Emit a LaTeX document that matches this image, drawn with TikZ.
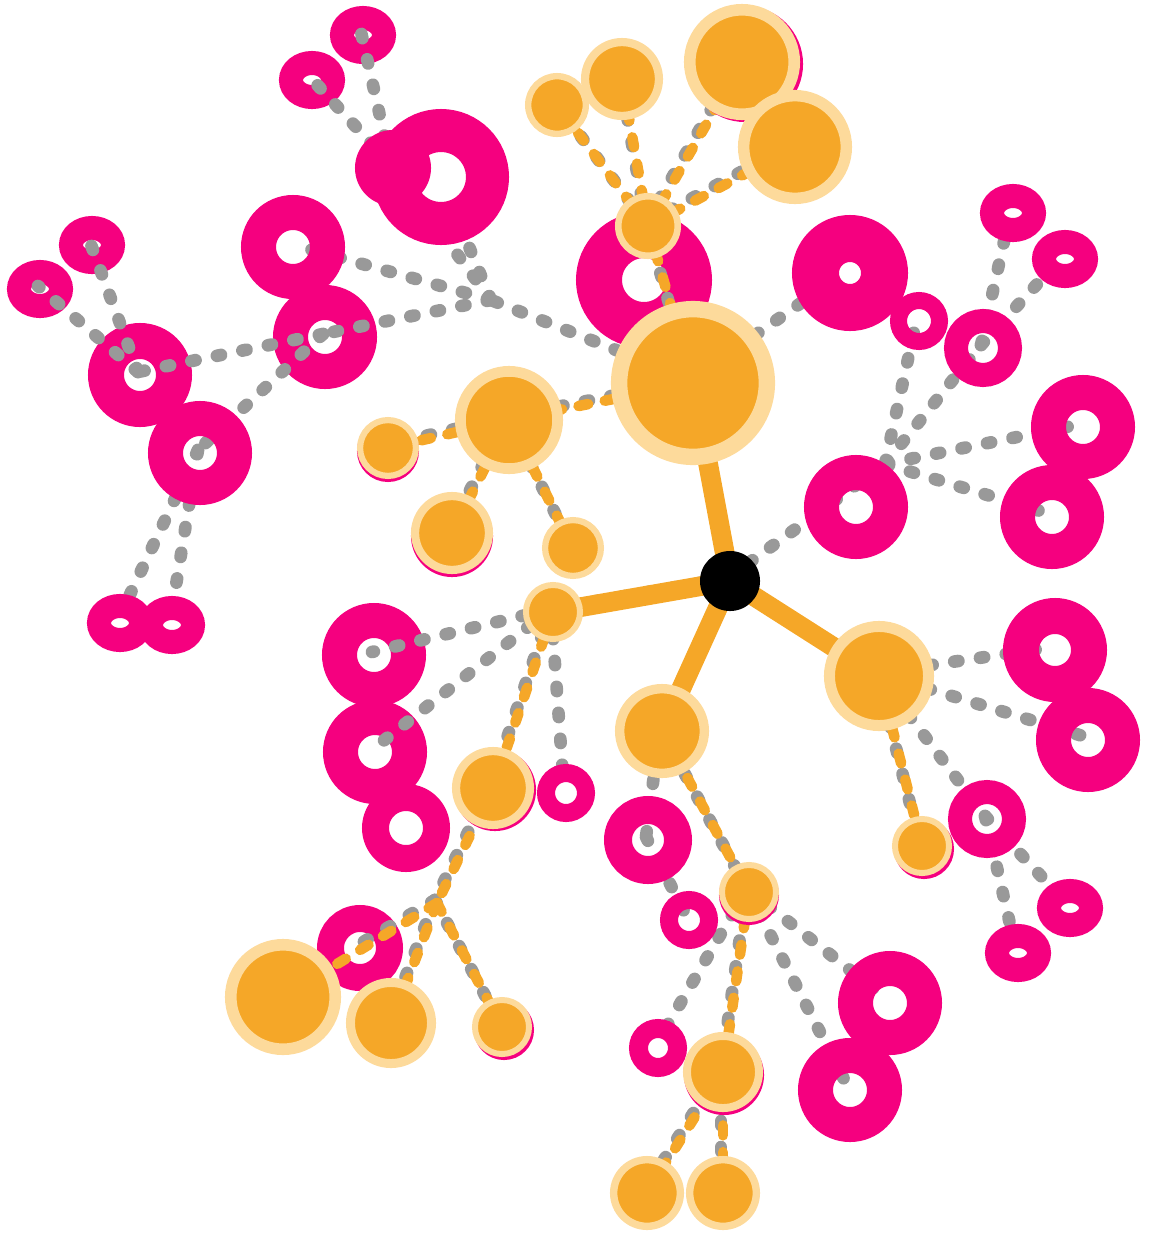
\documentclass[tikz,border=0pt]{standalone}
\usepackage{xcolor}
\usepackage{tikz}
\usetikzlibrary{shapes.geometric}
\definecolor{pnk}{RGB}{245, 0, 127}
\definecolor{orfill}{RGB}{245, 167, 40}
\definecolor{orrim}{RGB}{253, 218, 155}
\definecolor{lnk}{RGB}{153, 153, 153}
\pgfdeclarelayer{deep}
\pgfdeclarelayer{links}
\pgfsetlayers{deep,links,main}

\tikzset{
    ring/.style 2 args={circle, draw=pnk, inner sep=0pt, outer sep=0pt,
        minimum size={(#1+#2)*0.01cm}, line width={(#1-#2)*0.01cm}},
    tinyring/.style={ellipse, draw=pnk, fill=white, inner sep=0pt, outer sep=0pt,
        minimum width=0.42cm, minimum height=0.34cm, line width=0.24cm},
    pdisc/.style={circle, fill=pnk, inner sep=0pt, minimum size=0.76cm},
    blob/.style={circle, fill=orfill, draw=orrim, inner sep=0pt, outer sep=0pt,
        minimum size={#1*0.018cm}, line width={#1*0.002cm}},
    lit/.style={preaction={draw=pnk, fill=pnk, transform canvas={shift={#1}}}},
    hub/.style={circle, fill=black, inner sep=0pt, minimum size=0.6cm},
    link/.style={lnk, line width=3.6pt, line cap=round, dash pattern=on 1.2pt off 6.2pt,
        transform canvas={shift={(-2,-3)}}},
    hot/.style={orfill, line width=3pt, line cap=round, dash pattern=on 2.8pt off 4.8pt},
    trunk/.style={orfill, line width=5.6pt, line cap=round}
}

\begin{document}
\begin{tikzpicture}[x=0.01cm, y=-0.01cm]
    \useasboundingbox (0,0) rectangle (1149,1236);

    % rings that the links run over
    \begin{pgfonlayer}{deep}
        \node[tinyring] (ptl1) at (363,35) {};
        \node[tinyring] (ptl2) at (312,80) {};
        \node[tinyring] (pl1) at (92,245) {};
        \node[tinyring] (pl2) at (40,289) {};
        \node[ring={68}{22}] (pmid) at (644,280) {};
        \node[ring={43}{16}] (pq) at (360,948) {};
        \node[ring={52}{17}] (pll1) at (374,655) {};
        \node[ring={52}{17}] (pll2) at (375,752) {};
        \node[ring={52}{17}] (pw2) at (325,337) {};
        \node[ring={52}{16}] (pw3) at (140,375) {};
    \end{pgfonlayer}

    % pink rings
    \node[ring={52}{17}] (pw1) at (293,247) {};
    \node[ring={68}{25}, fill=white] (ptop) at (441,177) {};
    \node[pdisc] (pdot) at (393,168) {};
    \node[ring={52}{17}] (pw4) at (200,453) {};
    \node[tinyring] (pb1) at (120,623) {};
    \node[tinyring] (pb2) at (172,625) {};
    \node[ring={58}{11}, fill=white] (pne) at (850,273) {};
    \node[ring={29}{12}] (pe1) at (919,321) {};
    \node[ring={39}{15}] (pe2) at (983,348) {};
    \node[tinyring] (pe3) at (1013,213) {};
    \node[tinyring] (pe4) at (1065,259) {};
    \node[ring={52}{17}] (pe5) at (1083,427) {};
    \node[ring={52}{17}] (pe6) at (1052,517) {};
    \node[ring={52}{17}] (pe7) at (856,507) {};
    \node[ring={44}{17}] (ps1) at (406,828) {};
    \node[ring={29}{11}] (ps2) at (566,793) {};
    \node[ring={44}{16}] (pm1) at (648,840) {};
    \node[ring={29}{11}] (pm2) at (689,920) {};
    \node[ring={29}{10}] (pm3) at (658,1048) {};
    \node[ring={52}{17}] (pm4) at (890,1003) {};
    \node[ring={52}{17}] (pm5) at (850,1090) {};
    \node[ring={39}{15}] (pn1) at (987,819) {};
    \node[tinyring] (pn2) at (1070,908) {};
    \node[tinyring] (pn3) at (1018,953) {};
    \node[ring={52}{16}] (pn4) at (1055,650) {};
    \node[ring={52}{17}] (pn5) at (1088,740) {};

    % orange nodes
    \node[blob=32] (oA) at (557,105) {};
    \node[blob=41] (oB) at (622,79) {};
    \node[blob=58, lit={(3,2)}] (oC) at (742,62) {};
    \node[blob=57] (oD) at (795,147) {};
    \node[blob=33] (oE) at (648,226) {};
    \node[blob=82] (oF) at (693,383) {};
    \node[blob=54] (oG) at (509,420) {};
    \node[blob=31, lit={(0,3)}] (oH) at (388,448) {};
    \node[blob=41, lit={(0,3)}] (oI) at (452,533) {};
    \node[blob=31] (oJ) at (573,548) {};
    \node[blob=30] (oL) at (553,612) {};
    \node[blob=47] (oM) at (662,731) {};
    \node[blob=55] (oN) at (879,676) {};
    \node[blob=41, lit={(2,2)}] (oP) at (493,788) {};
    \node[blob=58] (oQ) at (283,997) {};
    \node[blob=45] (oR) at (391,1023) {};
    \node[blob=30, lit={(2,3)}] (oS) at (502,1027) {};
    \node[blob=30, lit={(0,3)}] (oT) at (749,892) {};
    \node[blob=40, lit={(1,3)}] (oU) at (723,1072) {};
    \node[blob=37] (oV) at (647,1193) {};
    \node[blob=37] (oW) at (723,1193) {};
    \node[blob=30, lit={(2,3)}] (oX) at (922,846) {};
    \node[hub] (core) at (730,581) {};

    \coordinate (j1) at (493,303);
    \coordinate (j2) at (887,467);
    \coordinate (j3) at (437,903);

    \begin{pgfonlayer}{links}
        \foreach \a/\b in {oE/oA, oE/oB, oE/oC, oE/oD, oE/oF, oF/pne, oF/j1, j1/pw1, j1/pw2, j1/ptop, j1/pdot,
            pdot/ptl1, pdot/ptl2, pw2/pw3, pw2/pw4, pw3/pl1, pw3/pl2, pw4/pb1, pw4/pb2,
            oF/oG, oG/oH, oG/oI, oG/oJ, oF/core, core/oL, core/oM, core/oN, core/j2,
            j2/pe1, j2/pe2, j2/pe5, j2/pe6, pe2/pe3, pe2/pe4,
            oL/pll1, oL/pll2, oL/ps2, oL/oP, oP/j3, j3/pq, j3/oR, j3/oS,
            oM/pm1, oM/oT, pm1/pm2, oT/oU, oT/pm4, oT/pm5, oT/pm3, oU/oV, oU/oW,
            oN/oX, oN/pn1, oN/pn4, oN/pn5, pn1/pn2, pn1/pn3}
            \draw[link] (\a.center) -- (\b.center);

        \foreach \a/\b in {oE/oA, oE/oB, oE/oC, oE/oD, oE/oF, oF/oG, oG/oH, oG/oI, oG/oJ,
            oL/oP, oP/j3, j3/oQ, j3/oR, j3/oS, oM/oT, oT/oU, oU/oV, oU/oW, oN/oX}
            \draw[hot] (\a.center) -- (\b.center);

        \foreach \b in {oF, oL, oM, oN}
            \draw[trunk] (core.center) -- (\b.center);
    \end{pgfonlayer}
\end{tikzpicture}
\end{document}
